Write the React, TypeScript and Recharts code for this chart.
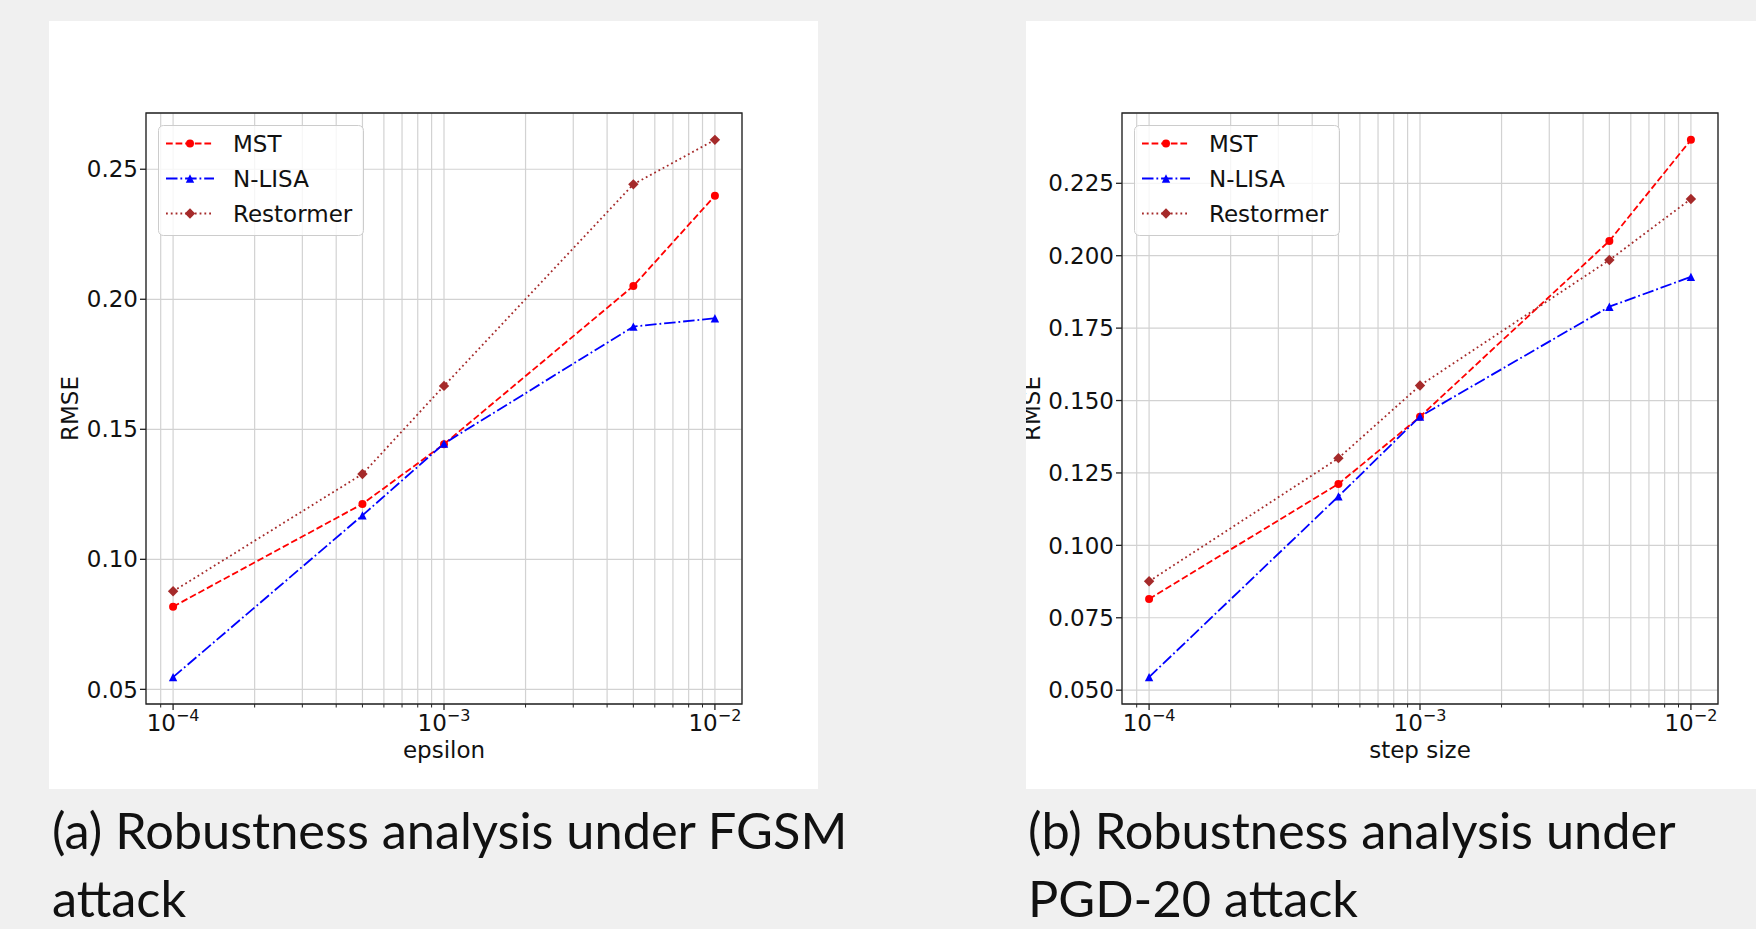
import React from 'react';
import { LineChart, Line, XAxis, YAxis, CartesianGrid, ReferenceArea, Legend } from 'recharts';

// step values on the x axis (log scale)
const steps = [1e-4, 5e-4, 1e-3, 5e-3, 1e-2];

// (a) FGSM attack, x = epsilon
const fgsmMst = [0.0818, 0.1213, 0.1443, 0.2051, 0.2398];
const fgsmNlisa = [0.0547, 0.1169, 0.1445, 0.1895, 0.1927];
const fgsmRestormer = [0.0877, 0.1328, 0.1667, 0.2442, 0.2613];

// (b) PGD-20 attack, x = step size
const pgdMst = [0.0815, 0.1212, 0.1444, 0.2051, 0.24];
const pgdNlisa = [0.0545, 0.1169, 0.1445, 0.1824, 0.1927];
const pgdRestormer = [0.0876, 0.1301, 0.1552, 0.1985, 0.2196];

const xMajorTicks = [1e-4, 1e-3, 1e-2];
const xMinorTicks = [9e-5, 2e-4, 3e-4, 4e-4, 5e-4, 6e-4, 7e-4, 8e-4, 9e-4, 2e-3, 3e-3, 4e-3, 5e-3, 6e-3, 7e-3, 8e-3, 9e-3];
const fgsmYTicks = [0.05, 0.1, 0.15, 0.2, 0.25];
const pgdYTicks = [0.05, 0.075, 0.1, 0.125, 0.15, 0.175, 0.2, 0.225];

const captionA = ['(a) Robustness analysis under FGSM', 'attack'];
const captionB = ['(b) Robustness analysis under', 'PGD-20 attack'];

const series = [
  { key: 'mst', name: 'MST', color: '#ff0000', dash: '6.7 2.9', marker: 'circle' },
  { key: 'nlisa', name: 'N-LISA', color: '#0000ff', dash: '11.5 2.9 1.8 2.9', marker: 'triangle' },
  { key: 'restormer', name: 'Restormer', color: '#a52a2a', dash: '1.8 3', marker: 'diamond' },
];

const FONT = 'DejaVu Sans';
const allXTicks = [...xMajorTicks, ...xMinorTicks].sort((a, b) => a - b);

function drawMarker(kind: string, cx: number, cy: number, color: string, key?: any) {
  if (kind === 'circle') return <circle key={key} cx={cx} cy={cy} r={4} fill={color} />;
  if (kind === 'triangle') {
    const s = 4.2;
    return <polygon key={key} points={`${cx},${cy - s} ${cx - s},${cy + s} ${cx + s},${cy + s}`} fill={color} />;
  }
  const s = 5.2;
  return <polygon key={key} points={`${cx},${cy - s} ${cx + s},${cy} ${cx},${cy + s} ${cx - s},${cy}`} fill={color} />;
}

const XTick = (props: any) => {
  const { x, y, payload } = props;
  const lg = Math.log10(payload.value);
  const major = Math.abs(lg - Math.round(lg)) < 1e-6;
  return (
    <g>
      <line x1={x} x2={x} y1={y} y2={y + (major ? 6 : 3.5)} stroke="#222" strokeWidth={major ? 1.3 : 1} />
      {major && (
        <text x={x} y={y + 26.5} textAnchor="middle" fontSize={23} fontFamily={FONT} fill="#111">
          <tspan>10</tspan>
          <tspan dy={-10} fontSize={16}>{'\u2212' + String(-Math.round(lg))}</tspan>
        </text>
      )}
    </g>
  );
};

const XTitle = (props: any) => {
  const vb = props.viewBox;
  return (
    <text x={vb.x + vb.width / 2} y={vb.y + 53.5} textAnchor="middle" fontSize={23} fontFamily={FONT} fill="#111">
      {props.text}
    </text>
  );
};

const YTitle = (props: any) => {
  const vb = props.viewBox;
  const cx = vb.x + vb.width - props.dist;
  const cy = vb.y + vb.height / 2;
  return (
    <text x={cx} y={cy} transform={`rotate(-90 ${cx} ${cy})`} textAnchor="middle" fontSize={23} fontFamily={FONT} fill="#111">
      RMSE
    </text>
  );
};

const LegendBox = () => (
  <svg width={206} height={111} style={{ display: 'block' }}>
    <rect x={0.5} y={0.5} width={205} height={110} rx={5} fill="#fff" fillOpacity={0.8} stroke="#cccccc" />
    {series.map((s, i) => {
      const cy = 18.5 + i * 35;
      return (
        <g key={s.key}>
          <line x1={8} x2={56} y1={cy} y2={cy} stroke={s.color} strokeWidth={1.8} strokeDasharray={s.dash} />
          {drawMarker(s.marker, 32, cy, s.color)}
          <text x={75} y={cy + 8.4} fontSize={23} fontFamily={FONT} fill="#111">{s.name}</text>
        </g>
      );
    })}
  </svg>
);

function RobustnessChart(props: any) {
  const { mst, nlisa, restormer, yTicks, digits, xLabel, yLabelDist, width, right } = props;
  const data = steps.map((x, i) => ({ x, mst: mst[i], nlisa: nlisa[i], restormer: restormer[i] }));
  const vals = [...mst, ...nlisa, ...restormer];
  const lo = Math.min(...vals);
  const hi = Math.max(...vals);
  const pad = (hi - lo) * 0.05;
  const yDomain = [lo - pad, hi + pad];
  const xDomain = [Math.pow(10, -4.1), Math.pow(10, -1.9)];
  const yAxisW = width - 596 - right;

  return (
    <LineChart width={width} height={768} data={data} margin={{ top: 92, right, bottom: 0, left: 0 }}>
      <CartesianGrid stroke="#d2d2d2" strokeWidth={1.2} />
      <XAxis
        dataKey="x"
        type="number"
        scale="log"
        domain={xDomain}
        allowDataOverflow
        ticks={allXTicks}
        interval={0}
        tick={<XTick />}
        tickLine={false}
        axisLine={false}
        tickSize={0}
        tickMargin={0}
        height={85}
        label={<XTitle text={xLabel} />}
      />
      <YAxis
        type="number"
        domain={yDomain}
        allowDataOverflow
        ticks={yTicks}
        interval={0}
        tickFormatter={(v: number) => v.toFixed(digits)}
        width={yAxisW}
        tickSize={6}
        tickMargin={2}
        axisLine={false}
        tickLine={{ stroke: '#222', strokeWidth: 1.3 }}
        tick={{ fill: '#111', fontSize: 23, fontFamily: FONT }}
        label={<YTitle dist={yLabelDist} />}
      />
      <ReferenceArea x1={xDomain[0]} x2={xDomain[1]} y1={yDomain[0]} y2={yDomain[1]} fill="none" stroke="#222" strokeWidth={1.3} ifOverflow="visible" />
      {series.map((s) => (
        <Line
          key={s.key}
          dataKey={s.key}
          name={s.name}
          stroke={s.color}
          strokeWidth={1.8}
          strokeDasharray={s.dash}
          isAnimationActive={false}
          dot={(p: any) => drawMarker(s.marker, p.cx, p.cy, s.color, `${s.key}-${p.index}`)}
          activeDot={false}
        />
      ))}
      <Legend
        layout="vertical"
        align="center"
        verticalAlign="middle"
        wrapperStyle={{ left: yAxisW + 12, top: 104, width: 206, height: 111 }}
        content={() => <LegendBox />}
      />
    </LineChart>
  );
}

// one caption line per div, tight line boxes so nothing spills past the page
function Caption({ lines, left }: { lines: string[]; left: number }) {
  return (
    <>
      {lines.map((t, i) => (
        <div
          key={i}
          style={{
            position: 'absolute',
            left,
            top: 805 + i * 68.4,
            fontFamily: 'Lato',
            fontSize: 50.5,
            lineHeight: '50.5px',
            color: '#111',
            whiteSpace: 'nowrap',
          }}
        >
          {t}
        </div>
      ))}
    </>
  );
}

export default function App() {
  return (
    <div style={{ position: 'absolute', left: 0, top: 0, width: 1756, height: 929, background: '#f0f0f0', overflow: 'hidden' }}>
      <div style={{ position: 'absolute', left: 49, top: 21, width: 769, height: 768, background: '#fff', overflow: 'hidden' }}>
        <RobustnessChart
          mst={fgsmMst}
          nlisa={fgsmNlisa}
          restormer={fgsmRestormer}
          yTicks={fgsmYTicks}
          digits={2}
          xLabel="epsilon"
          yLabelDist={67.6}
          width={769}
          right={76}
        />
      </div>
      <div style={{ position: 'absolute', left: 1026, top: 21, width: 730, height: 768, background: '#fff', overflow: 'hidden' }}>
        <RobustnessChart
          mst={pgdMst}
          nlisa={pgdNlisa}
          restormer={pgdRestormer}
          yTicks={pgdYTicks}
          digits={3}
          xLabel="step size"
          yLabelDist={82.2}
          width={730}
          right={38}
        />
      </div>
      <Caption lines={captionA} left={52} />
      <Caption lines={captionB} left={1028} />
    </div>
  );
}
